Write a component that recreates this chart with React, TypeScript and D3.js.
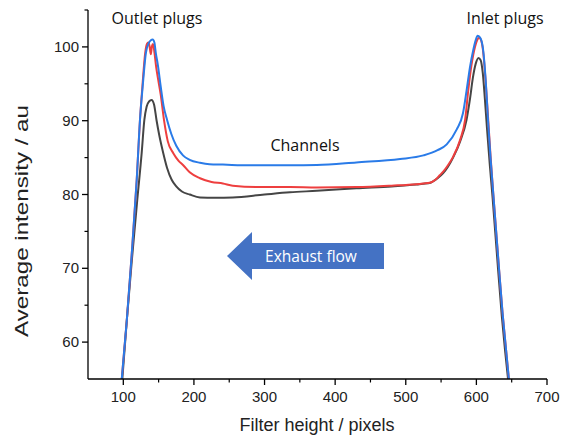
import React from "react";
import * as d3 from "d3";

const xBlue = [96, 105, 112, 119, 123.6, 127.4, 132, 136, 139, 141.6, 144, 146, 149, 153, 157, 162, 168, 175, 184.5, 194, 208.6, 222, 241, 279, 336, 374, 430, 492, 525, 545, 558, 572, 581, 586, 591, 595.6, 599, 601.8, 605, 609, 613.5, 616.5, 620, 624, 630, 637, 642, 648];
const yBlue = [53, 63, 72, 82, 90.1, 94.6, 99.2, 100.5, 100.9, 101, 100.6, 99.2, 97.5, 94.6, 92, 90.1, 88.2, 86.6, 85.3, 84.7, 84.3, 84.1, 84.05, 83.95, 83.95, 84.0, 84.35, 84.8, 85.3, 86.0, 86.8, 88.8, 91, 94, 97.3, 99.6, 100.9, 101.5, 101.3, 100, 95, 90, 85, 80, 72.5, 64, 59, 53];

const xRed = [96, 105, 112, 119, 123.6, 127, 131, 133.5, 135.4, 137, 139, 140.5, 142, 144, 146.5, 149.5, 153, 157.6, 163, 170.8, 178, 184.5, 194, 208.6, 225, 241, 255, 300, 336, 374, 430.5, 480, 515, 525, 534, 542, 548, 553, 560, 567, 577, 584, 588.6, 593, 598, 601, 604, 607, 610, 613, 616.5, 620, 624, 630, 637, 642, 648];
const yRed = [53, 63, 72, 82, 90.1, 94.6, 99.2, 100.4, 100.6, 100.2, 99.0, 100.1, 100.4, 99.3, 97.3, 95.5, 93.5, 90.1, 87.2, 85.6, 84.6, 84.0, 83.0, 82.2, 81.7, 81.5, 81.2, 81.0, 81.0, 80.95, 81.0, 81.2, 81.4, 81.5, 81.6, 82.0, 82.6, 83.1, 84.0, 85.1, 87.4, 90.1, 94.2, 97.5, 100.0, 100.9, 101.25, 100.8, 99, 95.5, 90.5, 85.3, 80, 72.5, 64, 59, 53];

const xBlack = [97, 105, 112, 119.8, 126, 129.8, 133, 136.5, 140, 143.5, 147, 151, 156.6, 162, 168.5, 175, 183, 194, 208.6, 230, 255, 300, 336, 374, 430, 480, 515, 525, 535, 545, 553, 560, 567, 577, 586, 591, 595, 599, 603, 606, 609, 612, 615, 619, 623, 629, 636, 641, 647];
const yBlack = [53, 63, 71, 79.3, 85.6, 90.1, 91.9, 92.6, 92.8, 92.2, 90.1, 88, 85.6, 83.6, 82, 81.1, 80.4, 80.0, 79.6, 79.55, 79.6, 80.0, 80.3, 80.5, 80.85, 81.1, 81.35, 81.45, 81.6, 82.2, 82.9, 83.8, 85, 87.2, 90.1, 93.0, 95.8, 97.7, 98.5, 98.2, 96.5, 93, 89, 84, 79.5, 72, 63.5, 58.5, 53];

const xMajor = [100, 200, 300, 400, 500, 600, 700];
const xMinor = [150, 250, 350, 450, 550, 650];
const yMajor = [60, 70, 80, 90, 100];
const yMinor = [65, 75, 85, 95, 105];

const series = [
  { name: "black", xs: xBlack, ys: yBlack, color: "#454545" },
  { name: "red", xs: xRed, ys: yRed, color: "#EE3F3F" },
  { name: "blue", xs: xBlue, ys: yBlue, color: "#2A7BE8" },
];

export default function App() {
  const W = 568, H = 438;
  const x = d3.scaleLinear().domain([50, 700]).range([88, 547]);
  const y = d3.scaleLinear().domain([55, 105]).range([379, 10]);
  const line = d3
    .line<[number, number]>()
    .x((d) => x(d[0]))
    .y((d) => y(d[1]))
    .curve(d3.curveMonotoneX);
  const axisFont = "'Liberation Sans', Arial, sans-serif";
  const annFont = "'Open Sans', sans-serif";
  const x0 = x(50), y0 = y(55);
  return (
    <div style={{ position: "fixed", left: 0, top: 0 }}>
      <svg width={W} height={H} style={{ display: "block", background: "#fff" }}>
        <defs>
          <clipPath id="plot">
            <rect x={x(50)} y={y(105)} width={x(700) - x(50)} height={y(55) - y(105)} />
          </clipPath>
        </defs>
        <g clipPath="url(#plot)">
          {series.map((s) => (
            <path
              key={s.name}
              d={line(s.xs.map((v, i) => [v, s.ys[i]] as [number, number])) || ""}
              fill="none"
              stroke={s.color}
              strokeWidth={2}
              strokeLinejoin="round"
            />
          ))}
        </g>
        <line x1={x0} y1={y(105)} x2={x0} y2={y0} stroke="#000" strokeWidth={1.3} />
        <line x1={x0} y1={y0} x2={x(700)} y2={y0} stroke="#000" strokeWidth={1.3} />
        {xMajor.map((v) => (
          <g key={"xm" + v}>
            <line x1={x(v)} x2={x(v)} y1={y0} y2={y0 + 6} stroke="#000" strokeWidth={1.3} />
            <text x={x(v)} y={y0 + 23} textAnchor="middle" fontFamily={axisFont} fontSize={15} fill="#222">
              {v}
            </text>
          </g>
        ))}
        {xMinor.map((v) => (
          <line key={"xn" + v} x1={x(v)} x2={x(v)} y1={y0} y2={y0 + 3.5} stroke="#000" strokeWidth={1.2} />
        ))}
        {yMajor.map((v) => (
          <g key={"ym" + v}>
            <line x1={x0 - 6} x2={x0} y1={y(v)} y2={y(v)} stroke="#000" strokeWidth={1.3} />
            <text x={x0 - 9} y={y(v) + 5} textAnchor="end" fontFamily={axisFont} fontSize={15} fill="#222">
              {v}
            </text>
          </g>
        ))}
        {yMinor.map((v) => (
          <line key={"yn" + v} x1={x0 - 3.5} x2={x0} y1={y(v)} y2={y(v)} stroke="#000" strokeWidth={1.2} />
        ))}
        <text x={317} y={431} textAnchor="middle" fontFamily={axisFont} fontSize={18} fill="#222">
          Filter height / pixels
        </text>
        <text
          transform={`translate(28,221) rotate(-90)`}
          textAnchor="middle"
          fontFamily={axisFont}
          fontSize={18}
          textLength={232}
          lengthAdjust="spacingAndGlyphs"
          fill="#222"
        >
          Average intensity / au
        </text>
        <text x={157} y={24} textAnchor="middle" fontFamily={annFont} fontSize={16} fill="#111">
          Outlet plugs
        </text>
        <text x={505} y={24} textAnchor="middle" fontFamily={annFont} fontSize={16} fill="#111">
          Inlet plugs
        </text>
        <text x={305} y={151} textAnchor="middle" fontFamily={annFont} fontSize={16} fill="#111">
          Channels
        </text>
        <path
          d="M227,256 L252,232 L252,243 L384,243 L384,269 L252,269 L252,280 Z"
          fill="#4472C4"
        />
        <text x={311} y={262} textAnchor="middle" fontFamily={annFont} fontSize={15.5} fill="#fff">
          Exhaust flow
        </text>
      </svg>
    </div>
  );
}
